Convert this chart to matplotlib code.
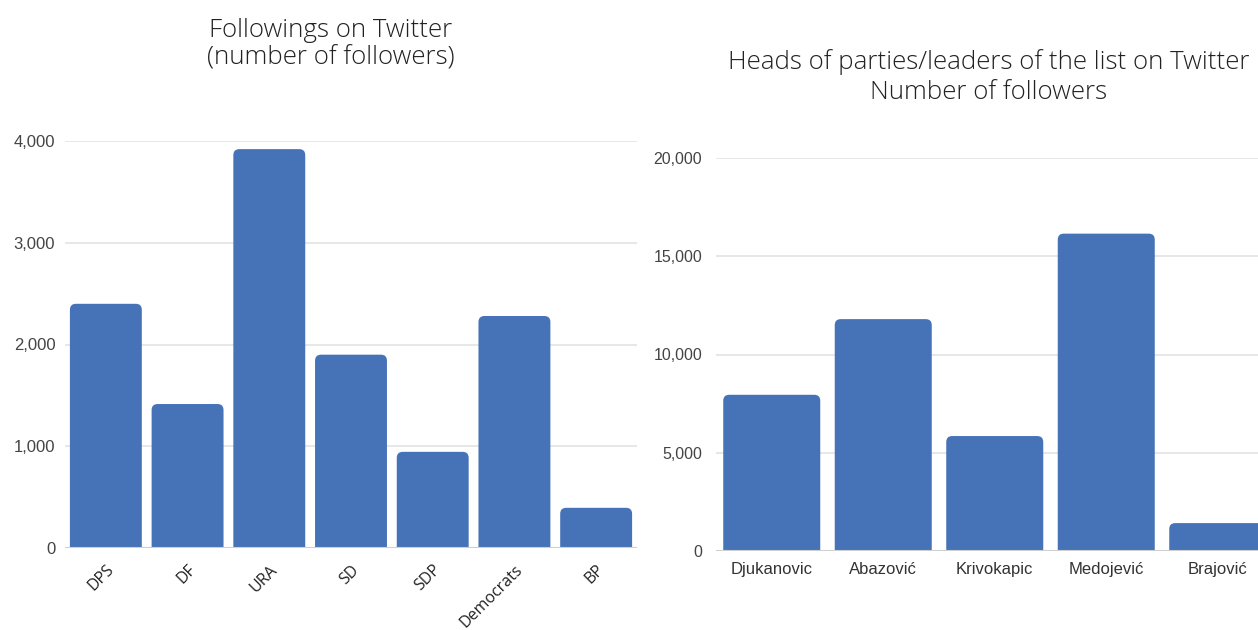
import matplotlib
matplotlib.use("Agg")
import matplotlib.pyplot as plt
from matplotlib.patches import FancyBboxPatch
from matplotlib.ticker import FuncFormatter

# Party accounts
parties = ["DPS", "DF", "URA", "SD", "SDP", "Democrats", "BP"]
party_followers = [2400, 1415, 3920, 1900, 945, 2280, 395]

# Party heads / list leaders
leaders = ["Djukanovic", "Abazović", "Krivokapic", "Medojević", "Brajović"]
leader_followers = [7950, 11800, 5850, 16150, 1420]

BAR = "#4672b8"
GRID = "#e3e3e3"
TICK = "#444444"
TITLE_FONT = ["Open Sans", "DejaVu Sans"]
TICK_FONT = ["Liberation Sans", "DejaVu Sans"]
W, H = 1258, 630

fig = plt.figure(figsize=(W / 100, H / 100), dpi=100)
fig.patch.set_facecolor("white")

thousands = FuncFormatter(lambda v, p: f"{int(v):,}")


def style(ax, ysize):
    for s in ax.spines.values():
        s.set_visible(False)
    ax.set_axisbelow(True)
    ax.yaxis.grid(True, color=GRID, linewidth=1.2)
    ax.tick_params(axis="both", length=0, colors=TICK)
    ax.yaxis.set_major_formatter(thousands)
    for lab in ax.get_yticklabels():
        lab.set_family(TICK_FONT)
        lab.set_fontsize(ysize)


def round_tops(ax, bars, radius_px=6):
    """Replace the square bars with ones that have rounded top corners."""
    fig.canvas.draw()
    bbox = ax.get_window_extent()
    x0, x1 = ax.get_xlim()
    y0, y1 = ax.get_ylim()
    ux = (x1 - x0) / bbox.width   # data units per pixel (x)
    uy = (y1 - y0) / bbox.height  # data units per pixel (y)
    rx = radius_px * ux
    for r in bars:
        x, w, h = r.get_x(), r.get_width(), r.get_height()
        r.set_visible(False)
        below = radius_px * uy * 2
        p = FancyBboxPatch((x, -below), w, h + below,
                           boxstyle=f"round,pad=0,rounding_size={rx}",
                           mutation_aspect=uy / ux,
                           facecolor=BAR, edgecolor="none", zorder=2)
        ax.add_patch(p)
    ax.axhline(0, color="#cfcfcf", linewidth=1.5, zorder=3)


# Left chart
ax1 = fig.add_axes([65 / W, 82 / H, 572 / W, 407 / H])
b1 = ax1.bar(range(len(parties)), party_followers, width=0.88, color=BAR, zorder=2)
ax1.set_xlim(-0.5, len(parties) - 0.5)
ax1.set_ylim(0, 4000)
ax1.set_yticks([0, 1000, 2000, 3000, 4000])
style(ax1, 12)
ax1.tick_params(axis="y", pad=7)
ax1.set_xticks(range(len(parties)))
ax1.set_xticklabels(parties, rotation=45, ha="right", rotation_mode="anchor",
                    family=TITLE_FONT, fontsize=11.5, color="#222222")
ax1.tick_params(axis="x", pad=10)
fig.text(331 / W, 1 - 44 / H, "Followings on Twitter\n(number of followers)",
         ha="center", va="center", family=TITLE_FONT, fontweight="light",
         fontsize=18.6, color="#222222", linespacing=1.15)

# Right chart
ax2 = fig.add_axes([716 / W, 79 / H, 542 / W, 393 / H])
b2 = ax2.bar(range(len(leaders)), leader_followers, width=0.87, color=BAR, zorder=2)
ax2.set_xlim(-0.5, -0.5 + 542 / 111.5)
ax2.set_ylim(0, 20000)
ax2.set_yticks([0, 5000, 10000, 15000, 20000])
style(ax2, 11.5)
ax2.tick_params(axis="y", pad=10)
ax2.set_xticks(range(len(leaders)))
ax2.set_xticklabels(leaders, family=TICK_FONT, fontsize=12, color="#333333")
ax2.tick_params(axis="x", pad=8)
fig.text(989 / W, 1 - 77 / H,
         "Heads of parties/leaders of the list on Twitter\nNumber of followers",
         ha="center", va="center", family=TITLE_FONT, fontweight="light",
         fontsize=18.6, color="#222222", linespacing=1.25)

round_tops(ax1, b1)
round_tops(ax2, b2)

fig.savefig("out.png", dpi=100, facecolor="white")
